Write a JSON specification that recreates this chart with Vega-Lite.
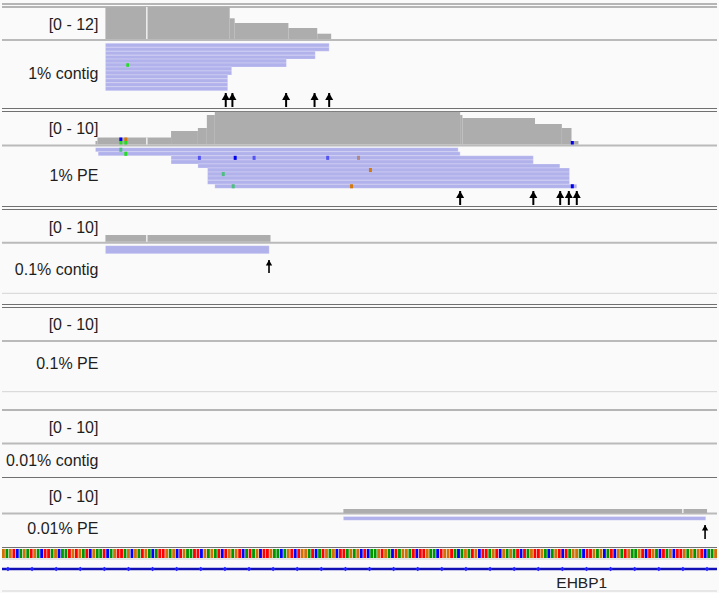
{
"$schema": "https://vega.github.io/schema/vega-lite/v6.json",
"width": 719, "height": 593,
"autosize": {"type": "fit", "contains": "padding"},
"padding": 0,
"background": "#fafafa",
"config": {"view": {"stroke": null}, "axis": {"disable": true}, "legend": {"disable": true}},
"datasets": {
"lines": [
{"y":4,"x1":0,"x2":719,"kind":"dark"},{"y":7,"x1":0,"x2":719,"kind":"dark"},
{"y":108.5,"x1":0,"x2":719,"kind":"dark"},{"y":111.5,"x1":0,"x2":719,"kind":"dark"},
{"y":206.5,"x1":0,"x2":719,"kind":"dark"},{"y":209.5,"x1":0,"x2":719,"kind":"dark"},
{"y":304.5,"x1":0,"x2":719,"kind":"dark"},{"y":307.5,"x1":0,"x2":719,"kind":"dark"},
{"y":410,"x1":0,"x2":719,"kind":"dark"},{"y":477.5,"x1":0,"x2":719,"kind":"dark"},
{"y":547.5,"x1":0,"x2":719,"kind":"dark"},
{"y":40,"x1":0,"x2":719,"kind":"sep"},{"y":145.5,"x1":0,"x2":719,"kind":"sep"},
{"y":242.8,"x1":0,"x2":719,"kind":"sep"},{"y":341,"x1":0,"x2":719,"kind":"sep"},
{"y":443.5,"x1":0,"x2":719,"kind":"sep"},{"y":513.6,"x1":0,"x2":719,"kind":"sep"},
{"y":293.3,"x1":0,"x2":719,"kind":"light"},{"y":391.7,"x1":0,"x2":719,"kind":"light"},
{"y":559,"x1":0,"x2":719,"kind":"light"},{"y":591,"x1":0,"x2":719,"kind":"light"}
],
"cov": [
{"x1":104,"x2":229,"top":7,"bottom":39,"kind":"cov"},
{"x1":229,"x2":234,"top":18.3,"bottom":39,"kind":"cov"},
{"x1":234,"x2":288,"top":23,"bottom":39,"kind":"cov"},
{"x1":288,"x2":317,"top":28,"bottom":39,"kind":"cov"},
{"x1":317,"x2":331,"top":33.7,"bottom":39,"kind":"cov"},
{"x1":145,"x2":146.3,"top":7,"bottom":39,"kind":"gap"},
{"x1":94,"x2":96,"top":141,"bottom":144.5,"kind":"cov"},
{"x1":96,"x2":170,"top":137.5,"bottom":144.5,"kind":"cov"},
{"x1":170,"x2":197,"top":131,"bottom":144.5,"kind":"cov"},
{"x1":197,"x2":206,"top":128,"bottom":144.5,"kind":"cov"},
{"x1":206,"x2":214,"top":115,"bottom":144.5,"kind":"cov"},
{"x1":214,"x2":460.7,"top":111.7,"bottom":144.5,"kind":"cov"},
{"x1":460.7,"x2":463,"top":115,"bottom":144.5,"kind":"cov"},
{"x1":463,"x2":536,"top":118,"bottom":144.5,"kind":"cov"},
{"x1":536,"x2":563,"top":124,"bottom":144.5,"kind":"cov"},
{"x1":563,"x2":572.7,"top":128,"bottom":144.5,"kind":"cov"},
{"x1":572.7,"x2":579.7,"top":141,"bottom":144.5,"kind":"cov"},
{"x1":145,"x2":146.3,"top":137.5,"bottom":144.5,"kind":"gap"},
{"x1":118,"x2":121,"top":137.5,"bottom":141,"kind":"mC"},
{"x1":118,"x2":121,"top":141,"bottom":144.5,"kind":"mA"},
{"x1":123,"x2":126,"top":137.5,"bottom":141,"kind":"mG"},
{"x1":123,"x2":126,"top":141,"bottom":144.5,"kind":"mA"},
{"x1":572,"x2":575,"top":141,"bottom":144.5,"kind":"mC"},
{"x1":104,"x2":270,"top":235,"bottom":241.7,"kind":"cov"},
{"x1":145,"x2":146.3,"top":235,"bottom":241.7,"kind":"gap"},
{"x1":343.3,"x2":709,"top":509,"bottom":513,"kind":"cov"},
{"x1":684,"x2":685.3,"top":509,"bottom":513,"kind":"gap"}
],
"reads": [
{"x1":104,"x2":329,"top":43.3,"bottom":47.25},
{"x1":104,"x2":329,"top":47.25,"bottom":51.2},
{"x1":104,"x2":315,"top":51.2,"bottom":55.15},
{"x1":104,"x2":315,"top":55.15,"bottom":59.1},
{"x1":104,"x2":286,"top":59.1,"bottom":63.05},
{"x1":104,"x2":286,"top":63.05,"bottom":67.0},
{"x1":104,"x2":231,"top":67.0,"bottom":70.95},
{"x1":104,"x2":231,"top":70.95,"bottom":74.9},
{"x1":104,"x2":227,"top":74.9,"bottom":78.85},
{"x1":104,"x2":227,"top":78.85,"bottom":82.8},
{"x1":104,"x2":227,"top":82.8,"bottom":86.75},
{"x1":104,"x2":227,"top":86.75,"bottom":90.7},
{"x1":94,"x2":458.7,"top":147.7,"bottom":151.76},
{"x1":96.7,"x2":460.7,"top":151.76,"bottom":155.82},
{"x1":170,"x2":534.3,"top":155.82,"bottom":159.88},
{"x1":170,"x2":534.3,"top":159.88,"bottom":163.94},
{"x1":197,"x2":561,"top":163.94,"bottom":168.0},
{"x1":206.7,"x2":570.7,"top":168.0,"bottom":172.06},
{"x1":206.7,"x2":570.7,"top":172.06,"bottom":176.12},
{"x1":206.7,"x2":570.7,"top":176.12,"bottom":180.18},
{"x1":206.7,"x2":570.7,"top":180.18,"bottom":184.24},
{"x1":214,"x2":578,"top":184.24,"bottom":188.3},
{"x1":104,"x2":268.7,"top":245.7,"bottom":253.7},
{"x1":343.3,"x2":707.7,"top":516.5,"bottom":520.3}
],
"mm": [
{"x1":125,"x2":127.7,"top":63.3,"bottom":66.8,"kind":"mA"},
{"x1":118,"x2":121,"top":147.7,"bottom":151.76,"kind":"mA2"},
{"x1":123,"x2":126,"top":151.76,"bottom":155.82,"kind":"mA"},
{"x1":197,"x2":200,"top":155.82,"bottom":159.88,"kind":"mC2"},
{"x1":233,"x2":236,"top":155.82,"bottom":159.88,"kind":"mC"},
{"x1":252,"x2":255,"top":155.82,"bottom":159.88,"kind":"mC2"},
{"x1":326,"x2":329,"top":155.82,"bottom":159.88,"kind":"mC2"},
{"x1":357,"x2":360,"top":155.82,"bottom":159.88,"kind":"mG2"},
{"x1":369,"x2":372,"top":168.0,"bottom":172.06,"kind":"mG"},
{"x1":221,"x2":224,"top":172.06,"bottom":176.12,"kind":"mA2"},
{"x1":231,"x2":234,"top":184.24,"bottom":188.3,"kind":"mA2"},
{"x1":350,"x2":353,"top":184.24,"bottom":188.3,"kind":"mG"},
{"x1":572,"x2":575,"top":184.24,"bottom":188.3,"kind":"mC"}
],
"arrows": [
{"x":225,"top":93,"bottom":107,"kind":"big"},
{"x":231.7,"top":93,"bottom":107,"kind":"big"},
{"x":285.7,"top":93,"bottom":107,"kind":"big"},
{"x":314.3,"top":93,"bottom":107,"kind":"big"},
{"x":329,"top":93,"bottom":107,"kind":"big"},
{"x":460.7,"top":191,"bottom":205,"kind":"big"},
{"x":534.3,"top":191,"bottom":205,"kind":"big"},
{"x":561.3,"top":191,"bottom":205,"kind":"big"},
{"x":570,"top":191,"bottom":205,"kind":"big"},
{"x":578,"top":191,"bottom":205,"kind":"big"},
{"x":268.5,"top":260,"bottom":273,"kind":"small"},
{"x":707,"top":525,"bottom":539,"kind":"small"}
],
"labels": [
{"x":97,"y":24.5,"text":"[0 - 12]"},
{"x":97,"y":73.5,"text":"1% contig"},
{"x":97,"y":128.5,"text":"[0 - 10]"},
{"x":97,"y":176,"text":"1% PE"},
{"x":97,"y":227.5,"text":"[0 - 10]"},
{"x":97,"y":270,"text":"0.1% contig"},
{"x":97,"y":325,"text":"[0 - 10]"},
{"x":97,"y":364,"text":"0.1% PE"},
{"x":97,"y":428,"text":"[0 - 10]"},
{"x":97,"y":461,"text":"0.01% contig"},
{"x":97,"y":497,"text":"[0 - 10]"},
{"x":97,"y":528.5,"text":"0.01% PE"}
],
"gene": [{"x1":0,"x2":719,"y":569,"name":"EHBP1","lx":583,"ly":583}],
"ticks": [
{"x":6},{"x":30.24},{"x":54.48},{"x":78.72},{"x":102.96},{"x":127.2},{"x":151.44},{"x":175.68},{"x":199.92},{"x":224.16},
{"x":248.4},{"x":272.64},{"x":296.88},{"x":321.12},{"x":345.36},{"x":369.6},{"x":393.84},{"x":418.08},{"x":442.32},{"x":466.56},
{"x":490.8},{"x":515.04},{"x":539.28},{"x":563.52},{"x":587.76},{"x":612},{"x":636.24},{"x":660.48},{"x":684.72},{"x":708.96}
],
"seq": [
{"i":0,"b":"G"},{"i":1,"b":"A"},{"i":2,"b":"G"},{"i":3,"b":"T"},{"i":4,"b":"C"},{"i":5,"b":"A"},{"i":6,"b":"G"},{"i":7,"b":"A"},{"i":8,"b":"T"},{"i":9,"b":"G"},
{"i":10,"b":"A"},{"i":11,"b":"C"},{"i":12,"b":"T"},{"i":13,"b":"T"},{"i":14,"b":"A"},{"i":15,"b":"G"},{"i":16,"b":"C"},{"i":17,"b":"A"},{"i":18,"b":"A"},{"i":19,"b":"T"},
{"i":20,"b":"G"},{"i":21,"b":"T"},{"i":22,"b":"G"},{"i":23,"b":"A"},{"i":24,"b":"T"},{"i":25,"b":"C"},{"i":26,"b":"G"},{"i":27,"b":"A"},{"i":28,"b":"A"},{"i":29,"b":"T"},
{"i":30,"b":"C"},{"i":31,"b":"A"},{"i":32,"b":"G"},{"i":33,"b":"T"},{"i":34,"b":"T"},{"i":35,"b":"A"},{"i":36,"b":"G"},{"i":37,"b":"C"},{"i":38,"b":"G"},{"i":39,"b":"A"},
{"i":40,"b":"T"},{"i":41,"b":"G"},{"i":42,"b":"A"},{"i":43,"b":"C"},{"i":44,"b":"A"},{"i":45,"b":"T"},{"i":46,"b":"T"},{"i":47,"b":"G"},{"i":48,"b":"A"},{"i":49,"b":"G"},
{"i":50,"b":"C"},{"i":51,"b":"T"},{"i":52,"b":"G"},{"i":53,"b":"A"},{"i":54,"b":"A"},{"i":55,"b":"T"},{"i":56,"b":"T"},{"i":57,"b":"C"},{"i":58,"b":"G"},{"i":59,"b":"A"},
{"i":60,"b":"G"},{"i":61,"b":"A"},{"i":62,"b":"T"},{"i":63,"b":"C"},{"i":64,"b":"T"},{"i":65,"b":"G"},{"i":66,"b":"A"},{"i":67,"b":"G"},{"i":68,"b":"T"},{"i":69,"b":"C"},
{"i":70,"b":"A"},{"i":71,"b":"T"},{"i":72,"b":"A"},{"i":73,"b":"G"},{"i":74,"b":"C"},{"i":75,"b":"T"},{"i":76,"b":"T"},{"i":77,"b":"G"},{"i":78,"b":"A"},{"i":79,"b":"A"},
{"i":80,"b":"C"},{"i":81,"b":"A"},{"i":82,"b":"G"},{"i":83,"b":"T"},{"i":84,"b":"C"},{"i":85,"b":"T"},{"i":86,"b":"G"},{"i":87,"b":"G"},{"i":88,"b":"A"},{"i":89,"b":"T"},
{"i":90,"b":"C"},{"i":91,"b":"A"},{"i":92,"b":"T"},{"i":93,"b":"G"},{"i":94,"b":"A"},{"i":95,"b":"G"},{"i":96,"b":"C"},{"i":97,"b":"T"},{"i":98,"b":"T"},{"i":99,"b":"A"},
{"i":100,"b":"G"},{"i":101,"b":"A"},{"i":102,"b":"G"},{"i":103,"b":"C"},{"i":104,"b":"T"},{"i":105,"b":"C"},{"i":106,"b":"A"},{"i":107,"b":"A"},{"i":108,"b":"G"},{"i":109,"b":"T"},
{"i":110,"b":"G"},{"i":111,"b":"A"},{"i":112,"b":"C"},{"i":113,"b":"T"},{"i":114,"b":"A"},{"i":115,"b":"G"},{"i":116,"b":"G"},{"i":117,"b":"A"},{"i":118,"b":"T"},{"i":119,"b":"C"},
{"i":120,"b":"T"},{"i":121,"b":"T"},{"i":122,"b":"G"},{"i":123,"b":"A"},{"i":124,"b":"A"},{"i":125,"b":"C"},{"i":126,"b":"T"},{"i":127,"b":"G"},{"i":128,"b":"G"},{"i":129,"b":"T"},
{"i":130,"b":"A"},{"i":131,"b":"C"},{"i":132,"b":"A"},{"i":133,"b":"G"},{"i":134,"b":"A"},{"i":135,"b":"T"},{"i":136,"b":"G"},{"i":137,"b":"C"},{"i":138,"b":"T"},{"i":139,"b":"T"},
{"i":140,"b":"A"},{"i":141,"b":"G"},{"i":142,"b":"T"},{"i":143,"b":"C"},{"i":144,"b":"G"},{"i":145,"b":"A"},{"i":146,"b":"G"},{"i":147,"b":"A"},{"i":148,"b":"T"},{"i":149,"b":"C"},
{"i":150,"b":"T"},{"i":151,"b":"A"},{"i":152,"b":"G"},{"i":153,"b":"T"},{"i":154,"b":"T"},{"i":155,"b":"G"},{"i":156,"b":"A"},{"i":157,"b":"C"},{"i":158,"b":"A"},{"i":159,"b":"G"},
{"i":160,"b":"T"},{"i":161,"b":"C"},{"i":162,"b":"T"},{"i":163,"b":"A"},{"i":164,"b":"G"},{"i":165,"b":"G"},{"i":166,"b":"A"},{"i":167,"b":"C"},{"i":168,"b":"T"},{"i":169,"b":"T"},
{"i":170,"b":"G"},{"i":171,"b":"A"},{"i":172,"b":"G"},{"i":173,"b":"C"},{"i":174,"b":"A"},{"i":175,"b":"T"},{"i":176,"b":"C"},{"i":177,"b":"G"},{"i":178,"b":"A"},{"i":179,"b":"T"},
{"i":180,"b":"G"},{"i":181,"b":"A"},{"i":182,"b":"A"},{"i":183,"b":"G"},{"i":184,"b":"T"},{"i":185,"b":"C"},{"i":186,"b":"T"},{"i":187,"b":"G"},{"i":188,"b":"A"},{"i":189,"b":"C"},
{"i":190,"b":"T"},{"i":191,"b":"A"},{"i":192,"b":"G"},{"i":193,"b":"C"},{"i":194,"b":"T"},{"i":195,"b":"T"},{"i":196,"b":"G"},{"i":197,"b":"A"},{"i":198,"b":"G"},{"i":199,"b":"A"},
{"i":200,"b":"G"},{"i":201,"b":"T"},{"i":202,"b":"C"},{"i":203,"b":"A"},{"i":204,"b":"A"},{"i":205,"b":"G"}
]
},
"resolve": {"scale": {"x": "independent"}},
"layer": [
{
"layer": [
{"data": {"name": "lines"}, "transform": [{"filter": "datum.kind === 'dark'"}],
 "mark": {"type": "rule", "color": "#707070", "strokeWidth": 1.2},
 "encoding": {"x": {"field": "x1", "type": "quantitative", "scale": {"domain": [0, 719], "nice": false, "zero": false}, "axis": null},
  "x2": {"field": "x2"},
  "y": {"field": "y", "type": "quantitative", "scale": {"domain": [0, 593], "reverse": true, "nice": false, "zero": false}, "axis": null}}},
{"data": {"name": "lines"}, "transform": [{"filter": "datum.kind === 'sep'"}],
 "mark": {"type": "rule", "color": "#bababa", "strokeWidth": 2},
 "encoding": {"x": {"field": "x1", "type": "quantitative"}, "x2": {"field": "x2"}, "y": {"field": "y", "type": "quantitative"}}},
{"data": {"name": "lines"}, "transform": [{"filter": "datum.kind === 'light'"}],
 "mark": {"type": "rule", "color": "#d4d4d4", "strokeWidth": 1},
 "encoding": {"x": {"field": "x1", "type": "quantitative"}, "x2": {"field": "x2"}, "y": {"field": "y", "type": "quantitative"}}},
{"data": {"name": "cov"}, "mark": {"type": "rect"},
 "encoding": {"x": {"field": "x1", "type": "quantitative"}, "x2": {"field": "x2"},
  "y": {"field": "top", "type": "quantitative"}, "y2": {"field": "bottom"},
  "color": {"field": "kind", "type": "nominal", "legend": null,
   "scale": {"domain": ["cov","gap","read","mA","mA2","mC","mC2","mG","mG2","A","C","G","T"], "range": ["#adadad","#fafafa","#b1b1ec","#22dd22","#4cbf80","#0000ee","#5454f4","#d27a10","#b08a82","#009600","#0000ff","#d17105","#ff0000"]}}}},
{"data": {"name": "reads"}, "mark": {"type": "rect", "color": "#b1b1ec", "stroke": "#ffffff", "strokeOpacity": 0.35, "strokeWidth": 0.7},
 "encoding": {"x": {"field": "x1", "type": "quantitative"}, "x2": {"field": "x2"},
  "y": {"field": "top", "type": "quantitative"}, "y2": {"field": "bottom"}}},
{"data": {"name": "mm"}, "mark": {"type": "rect"},
 "encoding": {"x": {"field": "x1", "type": "quantitative"}, "x2": {"field": "x2"},
  "y": {"field": "top", "type": "quantitative"}, "y2": {"field": "bottom"},
  "color": {"field": "kind", "type": "nominal", "legend": null,
   "scale": {"domain": ["cov","gap","read","mA","mA2","mC","mC2","mG","mG2","A","C","G","T"], "range": ["#adadad","#fafafa","#b1b1ec","#22dd22","#4cbf80","#0000ee","#5454f4","#d27a10","#b08a82","#009600","#0000ff","#d17105","#ff0000"]}}}},
{"data": {"name": "arrows"}, "transform": [{"filter": "datum.kind === 'big'"}],
 "mark": {"type": "rule", "color": "#000000", "strokeWidth": 2},
 "encoding": {"x": {"field": "x", "type": "quantitative"}, "y": {"field": "top", "type": "quantitative"}, "y2": {"field": "bottom"}}},
{"data": {"name": "arrows"}, "transform": [{"filter": "datum.kind === 'big'"}],
 "mark": {"type": "point", "shape": "triangle-up", "filled": true, "color": "#000000", "size": 64, "opacity": 1, "yOffset": 3.5},
 "encoding": {"x": {"field": "x", "type": "quantitative"}, "y": {"field": "top", "type": "quantitative"}}},
{"data": {"name": "arrows"}, "transform": [{"filter": "datum.kind === 'small'"}],
 "mark": {"type": "rule", "color": "#000000", "strokeWidth": 1.6},
 "encoding": {"x": {"field": "x", "type": "quantitative"}, "y": {"field": "top", "type": "quantitative"}, "y2": {"field": "bottom"}}},
{"data": {"name": "arrows"}, "transform": [{"filter": "datum.kind === 'small'"}],
 "mark": {"type": "point", "shape": "triangle-up", "filled": true, "color": "#000000", "size": 40, "opacity": 1, "yOffset": 2.8},
 "encoding": {"x": {"field": "x", "type": "quantitative"}, "y": {"field": "top", "type": "quantitative"}}},
{"data": {"name": "labels"},
 "mark": {"type": "text", "align": "right", "baseline": "middle", "font": "Liberation Sans", "fontSize": 16, "color": "#1e1e1e"},
 "encoding": {"x": {"field": "x", "type": "quantitative"}, "y": {"field": "y", "type": "quantitative"}, "text": {"field": "text"}}},
{"data": {"name": "gene"}, "mark": {"type": "rule", "color": "#1010b4", "strokeWidth": 2.4},
 "encoding": {"x": {"field": "x1", "type": "quantitative"}, "x2": {"field": "x2"}, "y": {"field": "y", "type": "quantitative"}}},
{"data": {"name": "ticks"}, "mark": {"type": "point", "shape": "diamond", "filled": true, "color": "#2222ff", "size": 22, "opacity": 1},
 "encoding": {"x": {"field": "x", "type": "quantitative"}, "y": {"datum": 569, "type": "quantitative"}}},
{"data": {"name": "gene"},
 "mark": {"type": "text", "align": "center", "baseline": "middle", "font": "Liberation Sans", "fontSize": 15.5, "color": "#222222"},
 "encoding": {"x": {"field": "lx", "type": "quantitative"}, "y": {"field": "ly", "type": "quantitative"}, "text": {"field": "name"}}}
]
},
{"data": {"name": "seq"},
 "mark": {"type": "rect"},
 "encoding": {
  "x": {"field": "i", "type": "ordinal", "sort": "ascending", "scale": {"paddingInner": 0.18, "paddingOuter": 0}, "axis": null},
  "y": {"datum": 549, "type": "quantitative", "scale": {"domain": [0, 593], "reverse": true, "nice": false, "zero": false}, "axis": null},
  "y2": {"datum": 558},
  "color": {"field": "b", "type": "nominal", "legend": null,
   "scale": {"domain": ["cov","gap","read","mA","mA2","mC","mC2","mG","mG2","A","C","G","T"], "range": ["#adadad","#fafafa","#b1b1ec","#22dd22","#4cbf80","#0000ee","#5454f4","#d27a10","#b08a82","#009600","#0000ff","#d17105","#ff0000"]}}}
}
]
}
